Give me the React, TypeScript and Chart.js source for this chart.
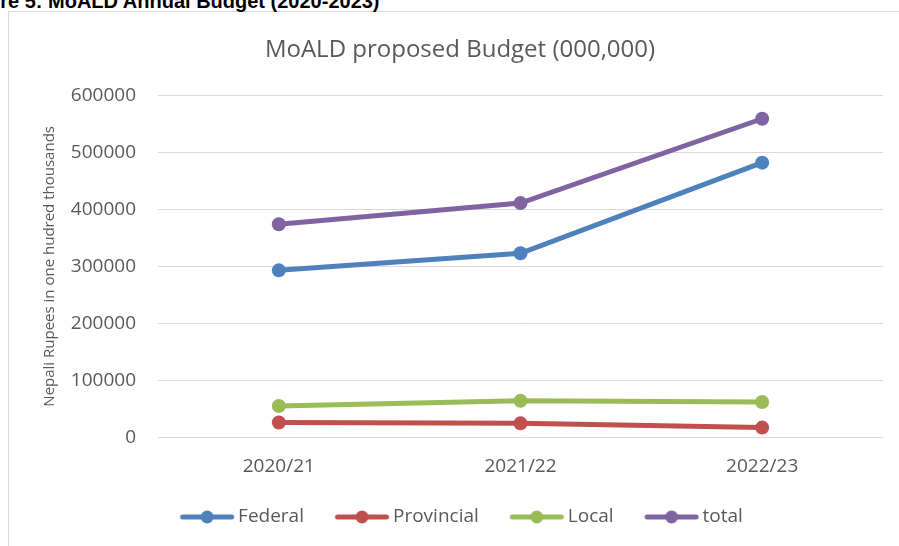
import React, { useEffect, useRef } from "react";
import { Chart, registerables } from "chart.js";

Chart.register(...registerables);

const categories = ["2020/21", "2021/22", "2022/23"];
const federal = [293000, 323000, 482000];
const provincial = [26000, 24500, 17000];
const local = [55000, 64000, 62000];
const total = [374000, 411000, 559000];
const seriesNames = ["Federal", "Provincial", "Local", "total"];
const seriesColors = ["#4F81BD", "#C0504D", "#9BBB59", "#8064A2"];
const yMin = 0;
const yMax = 600000;
const yStep = 100000;

const TEXT = "#595959";
const GRID = "#d9d9d9";
const FONT = "'Open Sans', 'Noto Sans', sans-serif";

// legend marker: a 54px line with a dot, inside a slightly wider transparent image
function legendImage(color: string) {
  const c = document.createElement("canvas");
  c.width = 64;
  c.height = 16;
  const g = c.getContext("2d")!;
  const x0 = 9.25;
  g.strokeStyle = color;
  g.lineWidth = 5;
  g.lineCap = "round";
  g.beginPath();
  g.moveTo(x0 + 2.5, 8);
  g.lineTo(x0 + 51.5, 8);
  g.stroke();
  g.fillStyle = color;
  g.beginPath();
  g.arc(x0 + 27, 8, 6.5, 0, Math.PI * 2);
  g.fill();
  return c;
}

export default function App() {
  const ref = useRef<HTMLCanvasElement | null>(null);

  useEffect(() => {
    if (!ref.current) return;
    const values = [federal, provincial, local, total];
    const images = seriesColors.map((c) => legendImage(c));
    const chart = new Chart(ref.current, {
      type: "line",
      data: {
        labels: categories,
        datasets: seriesNames.map((name, i) => ({
          label: name,
          data: values[i],
          borderColor: seriesColors[i],
          backgroundColor: seriesColors[i],
          pointBackgroundColor: seriesColors[i],
          pointBorderColor: seriesColors[i],
          borderWidth: 5,
          pointRadius: 7,
          pointBorderWidth: 0,
          tension: 0,
          fill: false,
        })),
      },
      options: {
        animation: false,
        responsive: false,
        maintainAspectRatio: false,
        layout: { padding: { left: 28, right: 28, top: 0, bottom: 9.5 } },
        plugins: {
          title: {
            display: true,
            text: "MoALD proposed Budget (000,000)",
            color: TEXT,
            font: { family: FONT, size: 24, weight: "normal" },
            padding: { top: 23.6, bottom: 31 },
          },
          legend: {
            display: true,
            position: "bottom",
            labels: {
              usePointStyle: true,
              pointStyleWidth: 51.5,
              padding: 28,
              color: TEXT,
              font: { family: FONT, size: 19 },
              generateLabels: () =>
                seriesNames.map((name, i) => ({
                  text: name,
                  fillStyle: seriesColors[i],
                  strokeStyle: seriesColors[i],
                  fontColor: TEXT,
                  lineWidth: 0,
                  pointStyle: images[i],
                  hidden: false,
                  datasetIndex: i,
                })),
            },
          },
          tooltip: { enabled: false },
        },
        scales: {
          x: {
            offset: true,
            grid: { display: false, drawTicks: false, offset: true },
            border: { display: false },
            ticks: {
              color: TEXT,
              font: { family: FONT, size: 19 },
              padding: 18,
            },
            afterFit: (s: any) => {
              s.height = 42.2;
            },
          },
          y: {
            min: yMin,
            max: yMax,
            grid: { color: GRID, lineWidth: 1, drawTicks: false },
            border: { display: false },
            ticks: {
              stepSize: yStep,
              color: TEXT,
              font: { family: FONT, size: 19 },
              padding: 22,
              callback: (v: any) => String(v),
            },
            title: {
              display: true,
              text: "Nepali Rupees in one hudred thousands",
              color: TEXT,
              font: { family: FONT, size: 15 },
              padding: { top: 4, bottom: 0 },
            },
            afterFit: (s: any) => {
              s.width = 121;
            },
          },
        },
      },
    });
    return () => chart.destroy();
  }, []);

  return (
    <div
      style={{
        position: "fixed",
        left: 0,
        top: 0,
        width: 899,
        height: 546,
        overflow: "hidden",
        background: "#fff",
      }}
    >
      <div
        style={{
          position: "absolute",
          left: 8,
          top: 11,
          width: 1000,
          height: 600,
          border: "1px solid #d9d9d9",
        }}
      >
        <canvas
          ref={ref}
          width={902}
          height={534}
          style={{ position: "absolute", left: 0, top: 0, width: 902, height: 534 }}
        />
      </div>
      <div
        style={{
          position: "absolute",
          left: -42,
          top: -9,
          fontFamily: "'Liberation Sans', Arial, sans-serif",
          fontWeight: "bold",
          fontSize: 20,
          lineHeight: "20px",
          whiteSpace: "nowrap",
          color: "#000",
        }}
      >
        Figure 5: MoALD Annual Budget (2020-2023)
      </div>
    </div>
  );
}
